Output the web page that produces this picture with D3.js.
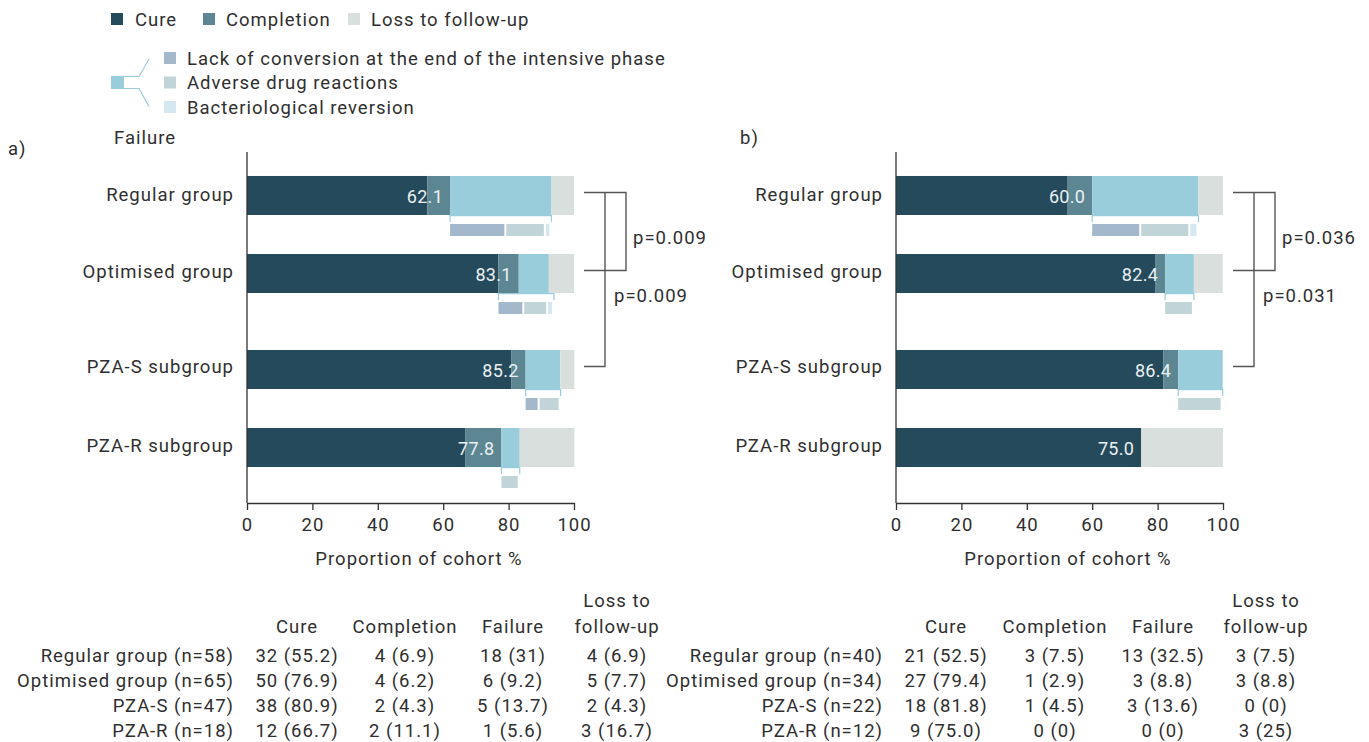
<!DOCTYPE html>
<html>
<head>
<meta charset="utf-8">
<script src="https://cdn.jsdelivr.net/npm/d3@7"></script>
<style>
  body { margin: 0; background: #fff; }
  svg { display: block; font-family: Roboto, "Noto Sans", sans-serif; }
  text { fill: #2f2f2f; }
</style>
</head>
<body>
<svg id="chart" width="1369" height="742"></svg>
<script>
// ---- data ----
const categories = ["Regular group", "Optimised group", "PZA-S subgroup", "PZA-R subgroup"];
const rowCluster = ["comparison", "comparison", "pza", "pza"];
const xTicks = [0, 20, 40, 60, 80, 100];

// a) outcome proportions (%)
const cureA = [55.2, 76.9, 80.9, 66.7];
const completionA = [6.9, 6.2, 4.3, 11.1];
const failureA = [31.0, 9.2, 10.6, 5.6];
const lossA = [6.9, 7.7, 4.3, 16.7];
const barLabelsA = ["62.1", "83.1", "85.2", "77.8"];
// failure breakdown (%), drawn below each bar from detailStart
const detailStartA = [62.1, 76.9, 85.2, 77.8];
const lackA = [17.2, 7.9, 4.3, 0];
const adverseA = [12.1, 7.3, 6.4, 5.6];
const reversionA = [1.7, 1.8, 0, 0];
const pValuesA = ["p=0.009", "p=0.009"];

// b) outcome proportions (%)
const cureB = [52.5, 79.4, 81.8, 75.0];
const completionB = [7.5, 2.9, 4.5, 0];
const failureB = [32.5, 8.8, 13.6, 0];
const lossB = [7.5, 8.8, 0, 25.0];
const barLabelsB = ["60.0", "82.4", "86.4", "75.0"];
const detailStartB = [60.0, 82.3, 86.3, 75.0];
const lackB = [15.0, 0, 0, 0];
const adverseB = [15.0, 8.8, 13.6, 0];
const reversionB = [2.5, 0, 0, 0];
const pValuesB = ["p=0.036", "p=0.031"];

// summary tables
const tableHead = ["Cure", "Completion", "Failure", "Loss to|follow-up"];
const tableRowsA = ["Regular group (n=58)", "Optimised group (n=65)", "PZA-S (n=47)", "PZA-R (n=18)"];
const tableCureA = ["32 (55.2)", "50 (76.9)", "38 (80.9)", "12 (66.7)"];
const tableCompletionA = ["4 (6.9)", "4 (6.2)", "2 (4.3)", "2 (11.1)"];
const tableFailureA = ["18 (31)", "6 (9.2)", "5 (13.7)", "1 (5.6)"];
const tableLossA = ["4 (6.9)", "5 (7.7)", "2 (4.3)", "3 (16.7)"];
const tableRowsB = ["Regular group (n=40)", "Optimised group (n=34)", "PZA-S (n=22)", "PZA-R (n=12)"];
const tableCureB = ["21 (52.5)", "27 (79.4)", "18 (81.8)", "9 (75.0)"];
const tableCompletionB = ["3 (7.5)", "1 (2.9)", "1 (4.5)", "0 (0)"];
const tableFailureB = ["13 (32.5)", "3 (8.8)", "3 (13.6)", "0 (0)"];
const tableLossB = ["3 (7.5)", "3 (8.8)", "0 (0)", "3 (25)"];

// ---- styles ----
const colors = {
  cure: "#244a5c", completion: "#5b8692", failure: "#99cddb", loss: "#d9dfdd",
  lack: "#a3b9cb", adverse: "#c1d4d8", reversion: "#d5e8f0"
};
const FONT = 18.5, SPACING = "1px";
const svg = d3.select("#chart");

function txt(g, x, y, s, anchor = "start", size = FONT) {
  return g.append("text").attr("x", x).attr("y", y).attr("text-anchor", anchor)
    .attr("font-size", size).attr("letter-spacing", SPACING).text(s);
}

// ---- legend ----
const legend = svg.append("g");
const topItems = [["cure", "Cure", 111, 135], ["completion", "Completion", 203, 226], ["loss", "Loss to follow-up", 348, 371]];
topItems.forEach(([k, label, sx, tx]) => {
  legend.append("rect").attr("x", sx).attr("y", 13).attr("width", 12).attr("height", 12).attr("fill", colors[k]);
  txt(legend, tx, 26, label);
});
const subItems = [["lack", "Lack of conversion at the end of the intensive phase"], ["adverse", "Adverse drug reactions"], ["reversion", "Bacteriological reversion"]];
subItems.forEach(([k, label], i) => {
  legend.append("rect").attr("x", 164).attr("y", 52 + i * 24.5).attr("width", 12).attr("height", 12).attr("fill", colors[k]);
  txt(legend, 187, 64.5 + i * 24.5, label);
});
legend.append("rect").attr("x", 111).attr("y", 76).attr("width", 13).attr("height", 13).attr("fill", colors.failure);
legend.append("path").attr("fill", "none").attr("stroke", colors.failure).attr("stroke-width", 1.2)
  .attr("d", "M124,76.5 H139 L149,59 M124,88.5 H139 L149,106.5");
txt(legend, 114, 144, "Failure");

// ---- panels ----
function drawPanel(p) {
  const g = svg.append("g");
  const x = d3.scaleLinear().domain([0, 100]).range([p.x0, p.x0 + 327]);
  const outer = d3.scaleBand().domain(["comparison", "pza"]).range([147.5, 495.5]);
  const inner = d3.scaleBand().domain([0, 1]).range([0, outer.bandwidth()]).paddingInner(0.5).paddingOuter(0.365);
  const yTop = i => outer(rowCluster[i]) + inner(rowCluster.slice(0, i).filter(c => c === rowCluster[i]).length);
  const bh = inner.bandwidth();
  const axisY = 503;

  const rows = categories.map((c, i) => ({
    i, cure: p.cure[i], completion: p.completion[i], failure: p.failure[i], loss: p.loss[i]
  }));
  const keys = ["cure", "completion", "failure", "loss"];
  const stacked = d3.stack().keys(keys)(rows);

  stacked.forEach(layer => {
    g.append("g").selectAll("rect").data(layer.filter(d => d[1] - d[0] > 0)).join("rect")
      .attr("x", d => x(d[0])).attr("width", d => x(d[1]) - x(d[0]))
      .attr("y", d => yTop(d.data.i)).attr("height", bh)
      .attr("fill", colors[layer.key]);
  });

  // value labels for cure + completion
  rows.forEach(r => {
    g.append("text").attr("x", x(r.cure + r.completion) - 7).attr("y", yTop(r.i) + bh / 2 + 7.5)
      .attr("text-anchor", "end").attr("font-size", 18).attr("letter-spacing", "0.3px")
      .style("fill", "#eaf0f2").text(p.labels[r.i]);
  });

  // failure breakdown below each bar
  rows.forEach(r => {
    const parts = [["lack", p.lack[r.i]], ["adverse", p.adverse[r.i]], ["reversion", p.reversion[r.i]]];
    const total = d3.sum(parts, d => d[1]);
    if (total <= 0) return;
    const yb = yTop(r.i) + bh;
    const s = p.detailStart[r.i];
    g.append("path").attr("fill", "none").attr("stroke", colors.failure).attr("stroke-width", 1.2)
      .attr("d", `M${x(s)},${yb + 7}V${yb + 0.6}H${x(s + total)}V${yb + 7}`);
    let acc = s;
    parts.forEach(([k, v]) => {
      if (v > 0) {
        g.append("rect").attr("x", x(acc)).attr("width", Math.max(1, x(acc + v) - x(acc) - 2))
          .attr("y", yb + 9).attr("height", 12).attr("fill", colors[k]);
      }
      acc += v;
    });
  });

  // category labels and axes
  categories.forEach((c, i) => txt(g, p.x0 - 13, yTop(i) + bh / 2 + 5.5 - (i > 0 ? 1.5 : 0), c, "end"));
  g.append("line").attr("x1", p.x0).attr("x2", p.x0).attr("y1", 152).attr("y2", axisY)
    .attr("stroke", "#333").attr("stroke-width", 1.3);
  const ax = g.append("g").attr("transform", `translate(0,${axisY})`)
    .call(d3.axisBottom(x).tickValues(xTicks).tickSize(7).tickSizeOuter(0).tickPadding(8));
  ax.select(".domain").attr("stroke", "#333").attr("stroke-width", 1.3);
  ax.selectAll(".tick line").attr("stroke", "#333").attr("stroke-width", 1.3);
  ax.selectAll(".tick text").attr("font-size", FONT).attr("font-family", "Roboto, sans-serif")
    .attr("letter-spacing", SPACING).style("fill", "#2f2f2f");
  txt(g, p.x0 + 172, 565, "Proportion of cohort %", "middle");
  txt(g, p.tagX, p.tagY, p.tag);

  // significance brackets
  const yc = i => yTop(i) + bh / 2 - 3;
  const xr = x(100);
  const br = g.append("g").attr("fill", "none").attr("stroke", "#555").attr("stroke-width", 1.4);
  br.append("path").attr("d", `M${xr + 10},${yc(0)}H${xr + 52}V${yc(1)}H${xr + 10}`);
  br.append("path").attr("d", `M${xr + 31},${yc(0)}V${yc(2)}H${xr + 10}`);
  txt(g, xr + 59, (yc(0) + yc(1)) / 2 + 12, p.pvals[0]);
  txt(g, xr + 40, yc(1) + 31, p.pvals[1]);

  // summary table
  const t = svg.append("g");
  const cols = [p.tableCure, p.tableCompletion, p.tableFailure, p.tableLoss];
  tableHead.forEach((h, j) => {
    const lines = h.split("|");
    lines.forEach((ln, k) => txt(t, p.colX[j], 633 - (lines.length - 1 - k) * 26, ln, "middle"));
  });
  p.tableRows.forEach((rl, i) => {
    const yy = 661.5 + i * 25.3;
    txt(t, p.rowLabelX, yy, rl, "end");
    cols.forEach((col, j) => txt(t, p.colX[j], yy, col[i], "middle"));
  });
}

drawPanel({
  x0: 247, tag: "a)", tagX: 8, tagY: 155,
  cure: cureA, completion: completionA, failure: failureA, loss: lossA, labels: barLabelsA,
  detailStart: detailStartA, lack: lackA, adverse: adverseA, reversion: reversionA, pvals: pValuesA,
  tableRows: tableRowsA, tableCure: tableCureA, tableCompletion: tableCompletionA,
  tableFailure: tableFailureA, tableLoss: tableLossA,
  rowLabelX: 234, colX: [297, 405, 513, 617]
});
drawPanel({
  x0: 896, tag: "b)", tagX: 740, tagY: 144,
  cure: cureB, completion: completionB, failure: failureB, loss: lossB, labels: barLabelsB,
  detailStart: detailStartB, lack: lackB, adverse: adverseB, reversion: reversionB, pvals: pValuesB,
  tableRows: tableRowsB, tableCure: tableCureB, tableCompletion: tableCompletionB,
  tableFailure: tableFailureB, tableLoss: tableLossB,
  rowLabelX: 883, colX: [946, 1055, 1163, 1266]
});
</script>
</body>
</html>
